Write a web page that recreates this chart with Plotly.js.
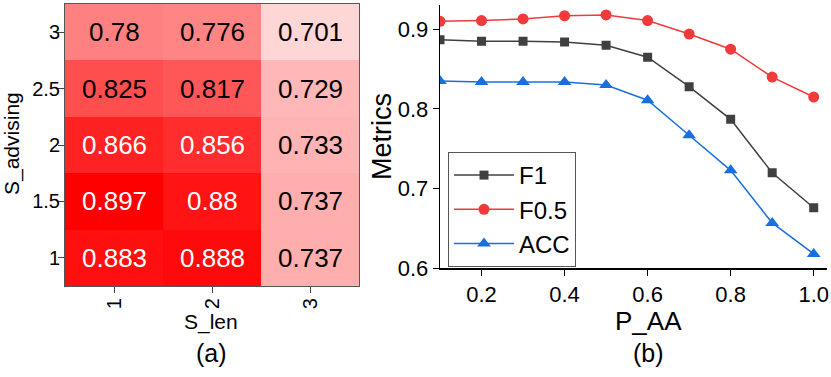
<!DOCTYPE html>
<html>
<head>
<meta charset="utf-8">
<script src="https://cdn.plot.ly/plotly-3.0.1.min.js"></script>
<style>
  html, body { margin: 0; padding: 0; background: #fff; }
  #chart { width: 831px; height: 377px; }
</style>
</head>
<body>
<div id="chart"></div>
<script>
// (a) heatmap data
const sLen = [1, 2, 3];
const sAdvising = [1, 1.5, 2, 2.5, 3];
const accRow1 = [0.883, 0.888, 0.737];
const accRow15 = [0.897, 0.88, 0.737];
const accRow2 = [0.866, 0.856, 0.733];
const accRow25 = [0.825, 0.817, 0.729];
const accRow3 = [0.78, 0.776, 0.701];

// (b) line chart data
const pAA = [0.1, 0.2, 0.3, 0.4, 0.5, 0.6, 0.7, 0.8, 0.9, 1.0];
const f1 = [0.887, 0.885, 0.885, 0.884, 0.880, 0.865, 0.828, 0.787, 0.720, 0.676];
const f05 = [0.910, 0.911, 0.913, 0.917, 0.918, 0.911, 0.894, 0.875, 0.840, 0.815];
const acc = [0.835, 0.834, 0.834, 0.834, 0.830, 0.811, 0.767, 0.723, 0.657, 0.618];

const font = 'Arial, "Liberation Sans", sans-serif';
const zRows = [accRow1, accRow15, accRow2, accRow25, accRow3];

// cell labels, white on the dark cells
const cellNotes = [];
zRows.forEach(function(row, i) {
  row.forEach(function(v, j) {
    cellNotes.push({
      x: sLen[j], y: sAdvising[i], xref: 'x', yref: 'y',
      text: String(v), showarrow: false,
      font: {family: font, size: 26, color: v > 0.85 ? '#ffffff' : '#000000'}
    });
  });
});

function label(text, x, y, size, angle) {
  return {
    text: text, x: x / 831, y: 1 - y / 377, xref: 'paper', yref: 'paper',
    showarrow: false, textangle: angle || 0,
    xanchor: 'center', yanchor: 'middle',
    font: {family: font, size: size, color: '#000'}
  };
}

const traces = [
  {
    type: 'heatmap', x: sLen, y: sAdvising, z: zRows,
    zmin: 0.663, zmax: 0.897,
    colorscale: [[0, '#ffffff'], [1, '#ff0000']],
    showscale: false, hoverinfo: 'skip',
    xaxis: 'x', yaxis: 'y'
  },
  {
    name: 'F1', x: pAA, y: f1, mode: 'lines+markers',
    line: {color: '#404040', width: 1.5},
    marker: {symbol: 'square', size: 9, color: '#404040'},
    xaxis: 'x2', yaxis: 'y2'
  },
  {
    name: 'F0.5', x: pAA, y: f05, mode: 'lines+markers',
    line: {color: '#ef3b3b', width: 1.5},
    marker: {symbol: 'circle', size: 11, color: '#ef3b3b'},
    xaxis: 'x2', yaxis: 'y2'
  },
  {
    name: 'ACC', x: pAA, y: acc, mode: 'lines+markers',
    line: {color: '#1a6fdf', width: 1.5},
    marker: {symbol: 'triangle-up', size: 12, color: '#1a6fdf'},
    xaxis: 'x2', yaxis: 'y2'
  }
];

const layout = {
  width: 831, height: 377,
  margin: {l: 0, r: 0, t: 0, b: 0},
  paper_bgcolor: '#fff', plot_bgcolor: '#fff',
  font: {family: font, color: '#000'},
  showlegend: true,
  xaxis: {
    domain: [65 / 831, 359 / 831], anchor: 'y',
    tickvals: sLen, ticktext: sLen.map(String), tickangle: -90,
    ticks: 'outside', ticklen: 6, tickcolor: '#444',
    ticklabelstandoff: -3,
    showline: true, mirror: true, linecolor: '#555', linewidth: 1,
    showgrid: false, zeroline: false, fixedrange: true,
    tickfont: {family: font, size: 20}
  },
  yaxis: {
    domain: [1 - 286 / 377, 1 - 4 / 377], anchor: 'x',
    tickvals: sAdvising, ticktext: ['1', '1.5', '2', '2.5', '3'],
    ticks: 'outside', ticklen: 6, tickcolor: '#444',
    ticklabelstandoff: -6,
    showline: true, mirror: true, linecolor: '#555', linewidth: 1,
    showgrid: false, zeroline: false, fixedrange: true,
    tickfont: {family: font, size: 20}
  },
  xaxis2: {
    domain: [440 / 831, 827 / 831], anchor: 'y2',
    range: [0.1, 1.032], tick0: 0.2, dtick: 0.2, tickformat: '.1f',
    ticks: 'outside', ticklen: 6, tickcolor: '#000',
    showline: true, linecolor: '#000', linewidth: 1.3,
    showgrid: false, zeroline: false,
    tickfont: {family: font, size: 22}
  },
  yaxis2: {
    domain: [1 - 268.3 / 377, 1 - 5 / 377], anchor: 'x2',
    range: [0.6, 0.9305], dtick: 0.1, tickformat: '.1f',
    ticks: 'outside', ticklen: 6, tickcolor: '#000',
    showline: true, linecolor: '#000', linewidth: 1.3,
    showgrid: false, zeroline: false,
    tickfont: {family: font, size: 22}
  },
  legend: {
    x: 448 / 831, y: 1 - 152 / 377, xanchor: 'left', yanchor: 'top',
    bgcolor: '#fff', bordercolor: '#555', borderwidth: 1,
    font: {family: font, size: 24}, itemwidth: 60,
    tracegroupgap: 0
  },
  annotations: cellNotes.concat([
    label('S_advising', 12, 144, 21, -90),
    label('S_len', 211, 322, 21),
    label('(a)', 211, 353, 25),
    label('Metrics', 382, 137, 27, -90),
    label('P_AA', 648, 321, 26),
    label('(b)', 648, 353, 25)
  ])
};

Plotly.newPlot('chart', traces, layout, {displayModeBar: false, staticPlot: true});
</script>
</body>
</html>
